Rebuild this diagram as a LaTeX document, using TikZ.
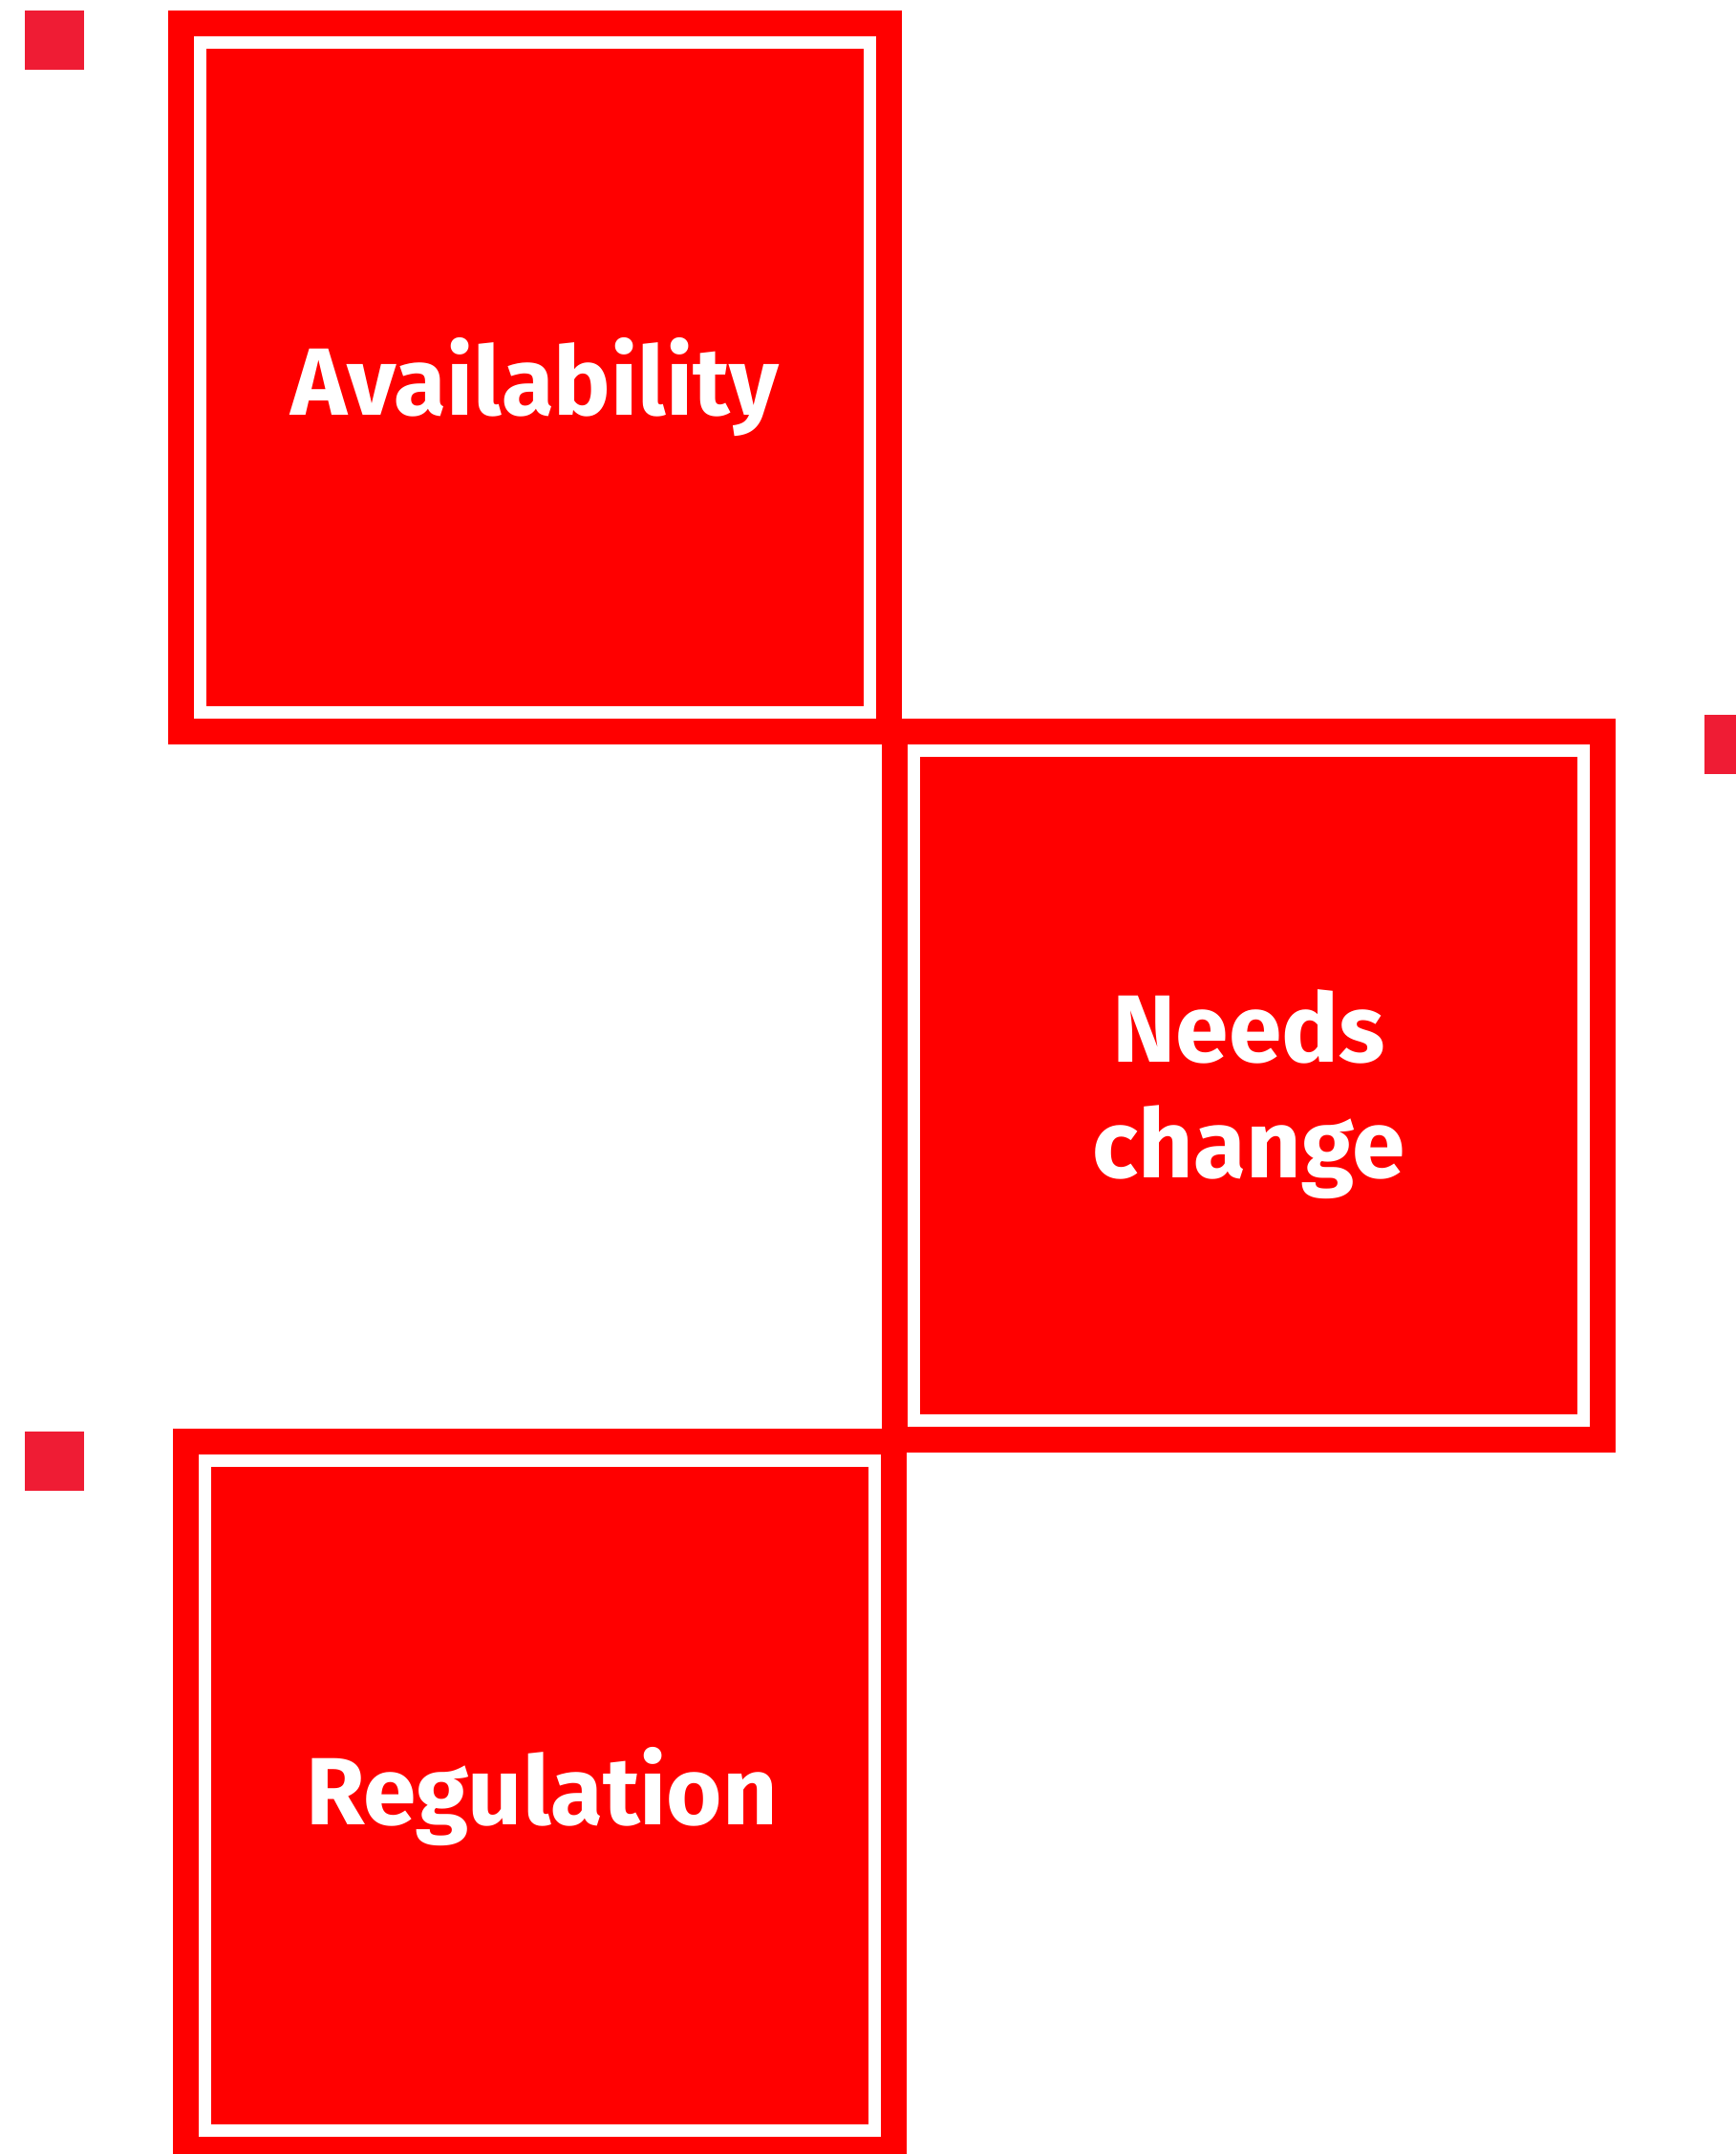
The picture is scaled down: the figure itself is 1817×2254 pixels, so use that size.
\documentclass[tikz,border=0pt]{standalone}
\usepackage{fontspec}
\setmainfont{Fira Sans}
\definecolor{boxred}{RGB}{255,0,0}
\definecolor{dotred}{RGB}{239,28,52}
\tikzset{
  bigbox/.style={rectangle, preaction={draw=boxred, line width=67pt}, fill=boxred, draw=white, line width=13pt, minimum size=701pt, inner sep=0pt, outer sep=0pt},
  dotsq/.style={rectangle, fill=dotred, minimum size=62pt, inner sep=0pt, outer sep=0pt},
  lbl/.style={text=white, font=\bfseries\fontsize{100}{121}\selectfont, anchor=base, inner sep=0pt}
}
\begin{document}
\begin{tikzpicture}[x=1pt,y=-1pt]
\useasboundingbox (0,0) rectangle (1817,2254);
\node[dotsq] (d1) at (57,42) {};
\node[dotsq] (d2) at (1815,779) {};
\node[dotsq] (d3) at (57,1529) {};
\node[bigbox] (b1) at (560,395) {};
\node[bigbox] (b2) at (1307,1136) {};
\node[bigbox] (b3) at (564.6,1878.7) {};
\node[lbl] (t1) at (560,434) {Availability};
\node[lbl] (t2a) at (1307,1111) {Needs};
\node[lbl] (t2b) at (1307,1232) {change};
\node[lbl] (t3) at (567,1909) {Regulation};
\end{tikzpicture}
\end{document}
